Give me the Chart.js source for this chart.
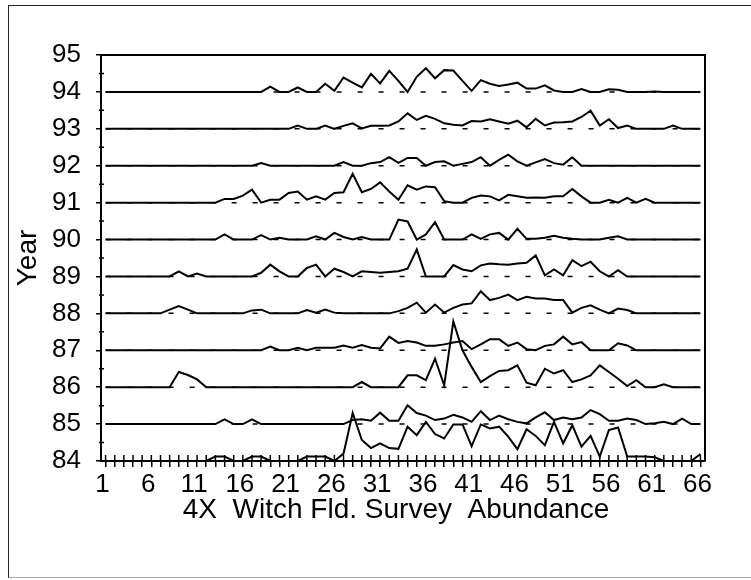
<!DOCTYPE html>
<html>
<head>
<meta charset="utf-8">
<script src="https://cdn.jsdelivr.net/npm/chart.js@4/dist/chart.umd.min.js"></script>
<style>
  html, body { margin: 0; padding: 0; background: #fff; overflow: hidden; }
  #frame { position: absolute; left: 8px; top: 5px; width: 760px; height: 571px;
           border: 1.5px solid #222; border-bottom-color: #aaa; }
  #wrap { position: absolute; left: 0; top: 0; width: 751px; height: 580px; }
</style>
</head>
<body>
<div id="frame"></div>
<div id="wrap"><canvas id="ridgeChart" width="751" height="580"></canvas></div>
<script>
// x categories (survey abundance classes) and the labelled ones
const categories = ["1","2","3","4","5","6","7","8","9","10","11","12","13","14","15","16","17","18","19","20",
  "21","22","23","24","25","26","27","28","29","30","31","32","33","34","35","36","37","38","39","40",
  "41","42","43","44","45","46","47","48","49","50","51","52","53","54","55","56","57","58","59","60",
  "61","62","63","64","65","66"];
const xTickLabels = ["1","6","11","16","21","26","31","36","41","46","51","56","61","66"];

// height of each year's curve above its baseline, one value per category
const y84 = [0,0,0,0,0,0,0,0,0,0, 0,0,0.12,0.12,0,0,0.12,0.12,0,0, 0,0,0.12,0.12,0.12,0,0.2,1.3,0.57,0.35,
  0.48,0.35,0.33,0.93,0.7,1.06,0.73,0.61,0.99,0.99, 0.4,0.99,0.88,0.93,0.66,0.32,0.86,0.68,0.43,1.06,
  0.48,0.97,0.39,0.68,0.12,0.84,0.91,0.12,0.12,0.12, 0.1,0,0,0,0,0.19];
const y85 = [0,0,0,0,0,0,0,0,0,0, 0,0,0,0.13,0,0,0.13,0,0,0, 0,0,0,0,0,0,0,0.11,0.13,0.09,
  0.31,0.09,0.09,0.51,0.3,0.23,0.11,0.15,0.25,0.18, 0.06,0.35,0.11,0.23,0.13,0.06,0.02,0.18,0.32,0.11,
  0.18,0.13,0.18,0.38,0.27,0.09,0.09,0.15,0.11,0, 0.02,0.06,0,0.15,0,0];
const y86 = [0,0,0,0,0,0,0,0,0.41,0.33, 0.21,0,0,0,0,0,0,0,0,0, 0,0,0,0,0,0,0,0,0.14,0,
  0,0,0,0.32,0.32,0.19,0.77,0.05,1.78,1.0, 0.55,0.14,0.3,0.44,0.46,0.59,0.12,0.05,0.5,0.37,
  0.46,0.14,0.21,0.32,0.59,0.41,0.23,0.03,0.19,0, 0,0.08,0,0,0,0];
const y87 = [0,0,0,0,0,0,0,0,0,0, 0,0,0,0,0,0,0,0,0.1,0, 0,0.07,0,0.07,0.07,0.07,0.13,0.07,0.14,0.07,
  0.05,0.37,0.2,0.25,0.21,0.12,0.12,0.16,0.21,0.25, 0.03,0.16,0.3,0.3,0.12,0.21,0.03,0,0.12,0.16,
  0.37,0.16,0.22,0,0,0,0.19,0.13,0,0, 0,0,0,0,0,0];
const y88 = [0,0,0,0,0,0,0,0.1,0.2,0.1, 0,0,0,0,0,0,0.08,0.1,0,0, 0,0,0.09,0.02,0.1,0.02,0,0,0,0,
  0,0,0.06,0.15,0.29,0.02,0.24,0.02,0.15,0.24, 0.27,0.6,0.36,0.42,0.51,0.36,0.45,0.4,0.4,0.36,
  0.36,0.02,0.15,0.22,0.1,0,0.13,0.09,0,0, 0,0,0,0,0,0];
const y89 = [0,0,0,0,0,0,0,0,0.14,0, 0.08,0,0,0,0,0,0,0.1,0.32,0.14, 0,0,0.23,0.32,0,0.21,0.12,0,0.14,0.12,
  0.1,0.12,0.14,0.21,0.73,0,0,0,0.31,0.19, 0.14,0.3,0.35,0.33,0.32,0.35,0.37,0.57,0.03,0.19,
  0.03,0.44,0.28,0.4,0.14,0,0.17,0,0,0, 0,0,0,0,0,0];
const y90 = [0,0,0,0,0,0,0,0,0,0, 0,0,0,0.14,0,0,0,0.12,0,0.05, 0,0,0,0.09,0,0.18,0.07,0,0.07,0,
  0,0,0.54,0.49,0,0.14,0.47,0,0,0, 0.14,0.02,0.14,0.18,0,0.29,0.02,0.02,0.05,0.1,
  0.05,0.02,0,0,0,0.05,0.09,0,0,0, 0,0,0,0,0,0];
const y91 = [0,0,0,0,0,0,0,0,0,0, 0,0,0,0.1,0.1,0.19,0.35,0,0.08,0.08, 0.26,0.3,0.08,0.17,0.08,0.26,0.28,0.78,0.28,0.37,
  0.55,0.3,0.08,0.47,0.35,0.44,0.42,0.04,0,0, 0.13,0.19,0.17,0.06,0.21,0.17,0.13,0.14,0.13,0.17,
  0.17,0.37,0.17,0,0,0.08,0,0.13,0,0.1, 0,0,0,0,0,0];
const y92 = [0,0,0,0,0,0,0,0,0,0, 0,0,0,0,0,0,0,0.07,0,0, 0,0,0,0,0,0,0.1,0,0,0.07,
  0.1,0.23,0.08,0.21,0.21,0,0.1,0.12,0,0.05, 0.1,0.23,0,0.16,0.3,0.12,0,0.09,0.18,0.07,
  0.03,0.23,0,0,0,0,0,0,0,0, 0,0,0,0,0,0];
const y93 = [0,0,0,0,0,0,0,0,0,0, 0,0,0,0,0,0,0,0,0,0, 0,0.09,0,0,0.09,0,0.08,0.15,0.01,0.08,
  0.08,0.09,0.2,0.42,0.24,0.35,0.27,0.15,0.11,0.09, 0.21,0.2,0.26,0.2,0.14,0.22,0.04,0.27,0.09,0.17,
  0.18,0.2,0.32,0.49,0.09,0.26,0.02,0.09,0,0, 0,0,0.09,0,0,0];
const y94 = [0,0,0,0,0,0,0,0,0,0, 0,0,0,0,0,0,0,0,0.14,0, 0,0.12,0,0,0.22,0.03,0.39,0.25,0.12,0.49,
  0.23,0.57,0.3,0,0.41,0.64,0.37,0.59,0.58,0.3, 0.03,0.32,0.22,0.16,0.2,0.25,0.09,0.09,0.18,0.04,
  0,0,0.08,0,0,0.07,0.06,0,0,0, 0.01,0,0,0,0,0];

const years = [84, 85, 86, 87, 88, 89, 90, 91, 92, 93, 94];
const curves = [y84, y85, y86, y87, y88, y89, y90, y91, y92, y93, y94];

const fontFamily = "'Liberation Sans', Arial, Helvetica, sans-serif";
Chart.defaults.font.family = fontFamily;
Chart.defaults.color = "#000";

let datasets = [];
// solid curves, each sitting on its year's baseline
years.forEach((yr, i) => {
    datasets.push({
        data: curves[i].map(v => yr + v),
        borderColor: "#000",
        borderWidth: 2,
        pointRadius: 0,
        tension: 0,
        fill: false,
        order: 0
    });
});
// dashed baselines underneath
years.forEach(yr => {
    datasets.push({
        data: categories.map(() => yr),
        borderColor: "#000",
        borderWidth: 1.5,
        borderDash: [5, 16],
        pointRadius: 0,
        fill: false,
        order: 1
    });
});

// top/right frame, minor y ticks, inner half of x ticks
const frameExtras = {
    id: "frameExtras",
    afterDraw(chart) {
        const { ctx, chartArea: a, scales: { x, y } } = chart;
        ctx.save();
        ctx.strokeStyle = "#000";
        ctx.lineWidth = 2;
        ctx.beginPath();
        ctx.moveTo(a.left, a.top);
        ctx.lineTo(a.right, a.top);
        ctx.lineTo(a.right, a.bottom);
        ctx.stroke();

        ctx.lineWidth = 1.5;
        ctx.beginPath();
        for (let v = y.min; v < y.max; v++) {
            const py = y.getPixelForValue(v + 0.5);
            ctx.moveTo(a.left - 2, py);
            ctx.lineTo(a.left + 3, py);
        }
        x.ticks.forEach((t, i) => {
            const px = x.getPixelForTick(i);
            ctx.moveTo(px, a.bottom);
            ctx.lineTo(px, a.bottom - 6);
        });
        ctx.stroke();
        ctx.restore();
    }
};

let ctx = document.getElementById("ridgeChart").getContext("2d");
let ridgeChart = new Chart(ctx, {
    type: "line",
    data: { labels: categories, datasets: datasets },
    options: {
        responsive: false,
        animation: false,
        layout: { padding: { left: 0, top: 55, right: 46, bottom: 0 } },
        plugins: { legend: { display: false }, tooltip: { enabled: false } },
        scales: {
            x: {
                type: "category",
                offset: true,
                grid: { drawOnChartArea: false, tickLength: 6, color: "#000", lineWidth: 1.5 },
                border: { display: true, color: "#000", width: 2 },
                ticks: {
                    autoSkip: false,
                    maxRotation: 0,
                    padding: 2,
                    labelOffset: -3,
                    font: { size: 26 },
                    callback: function (val) {
                        const lab = this.getLabelForValue(val);
                        return xTickLabels.includes(lab) ? lab : "";
                    }
                },
                title: {
                    display: true,
                    text: "4X  Witch Fld. Survey  Abundance\u2002",
                    font: { size: 28, lineHeight: 1 },
                    padding: { top: 0, bottom: 56 }
                },
                afterFit: s => { s.height = 119; }
            },
            y: {
                min: 84,
                max: 95,
                grid: { drawOnChartArea: false, tickLength: 5, color: "#000", lineWidth: 1.5 },
                border: { display: true, color: "#000", width: 2 },
                ticks: { stepSize: 1, padding: 15, font: { size: 26 } },
                title: {
                    display: true,
                    text: "Year",
                    font: { size: 28, lineHeight: 1 },
                    padding: { top: 14, bottom: 0 }
                },
                afterFit: s => { s.width = 101; }
            }
        }
    },
    plugins: [frameExtras]
});
</script>
</body>
</html>
